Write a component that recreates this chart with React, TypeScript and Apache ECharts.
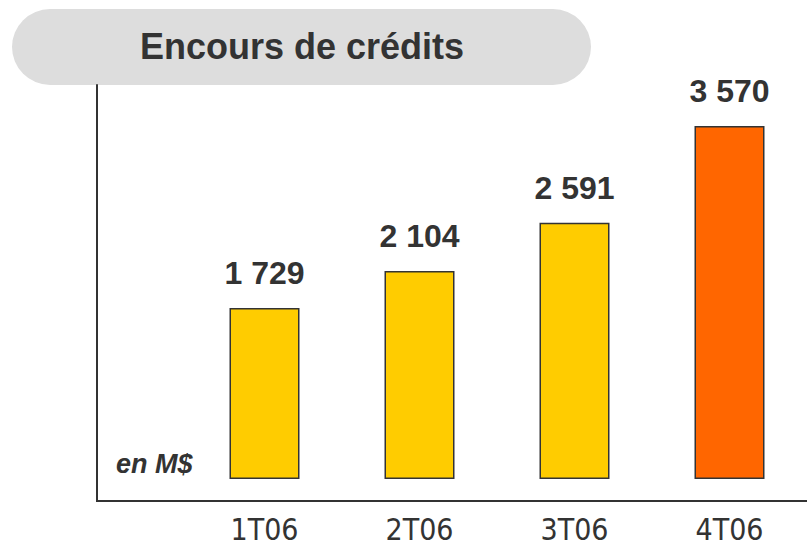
import React, { useEffect, useRef } from "react";
import * as echarts from "echarts";

const categories = ["1T06", "2T06", "3T06", "4T06"];
const values = [1729, 2104, 2591, 3570];
const valueLabels = ["1 729", "2 104", "2 591", "3 570"];
const barColors = ["#FFCC00", "#FFCC00", "#FFCC00", "#FF6600"];
const titleText = "Encours de crédits";
const unitText = "en M$";

export default function App() {
  const ref = useRef<HTMLDivElement>(null);
  useEffect(() => {
    if (!ref.current) return;
    const chart = echarts.init(ref.current, undefined, { renderer: "svg" });
    chart.setOption({
      animation: false,
      backgroundColor: "#ffffff",
      grid: { left: 187, right: 0, top: 85, bottom: 44, containLabel: false },
      xAxis: {
        type: "category",
        data: categories,
        axisLine: { show: false },
        axisTick: { show: false },
        axisLabel: {
          margin: 13,
          color: "#333333",
          fontSize: 30,
          lineHeight: 30,
          fontFamily: "'Liberation Sans Narrow', 'DejaVu Sans Condensed', 'Liberation Sans', Arial, sans-serif",
        },
      },
      yAxis: {
        type: "value",
        min: -222,
        max: 3985,
        offset: 90,
        axisLine: { show: true, lineStyle: { color: "#333333", width: 2 } },
        axisTick: { show: false },
        axisLabel: { show: false },
        splitLine: { show: false },
      },
      series: [
        {
          type: "bar",
          barWidth: 70,
          data: values.map((v, i) => ({
            value: v,
            itemStyle: { color: barColors[i], borderColor: "#333333", borderWidth: 1.5 },
          })),
          label: {
            show: true,
            position: "top",
            distance: 19,
            formatter: (p: any) => valueLabels[p.dataIndex],
            color: "#333333",
            fontSize: 32,
            fontWeight: "bold",
            fontFamily: "'Liberation Sans', Arial, sans-serif",
          },
        },
      ],
      graphic: [
        {
          type: "rect",
          shape: { x: 12, y: 9, width: 579, height: 76, r: 38 },
          style: { fill: "#dddddd" },
          z: 0,
        },
        {
          type: "text",
          x: 302,
          y: 46,
          style: {
            text: titleText,
            fill: "#333333",
            fontSize: 36,
            fontWeight: "bold",
            fontFamily: "'Liberation Sans', Arial, sans-serif",
            align: "center",
            verticalAlign: "middle",
          },
          z: 1,
        },
        {
          type: "line",
          shape: { x1: 96, y1: 501, x2: 807, y2: 501 },
          style: { stroke: "#333333", lineWidth: 2 },
        },
        {
          type: "text",
          x: 116,
          y: 464,
          style: {
            text: unitText,
            fill: "#333333",
            fontSize: 27,
            fontWeight: "bold",
            fontStyle: "italic",
            fontFamily: "'Liberation Sans', Arial, sans-serif",
            align: "left",
            verticalAlign: "middle",
          },
        },
      ],
    });
    return () => chart.dispose();
  }, []);
  return (
    <div
      ref={ref}
      style={{ position: "fixed", left: 0, top: 0, width: 807, height: 545 }}
    />
  );
}
